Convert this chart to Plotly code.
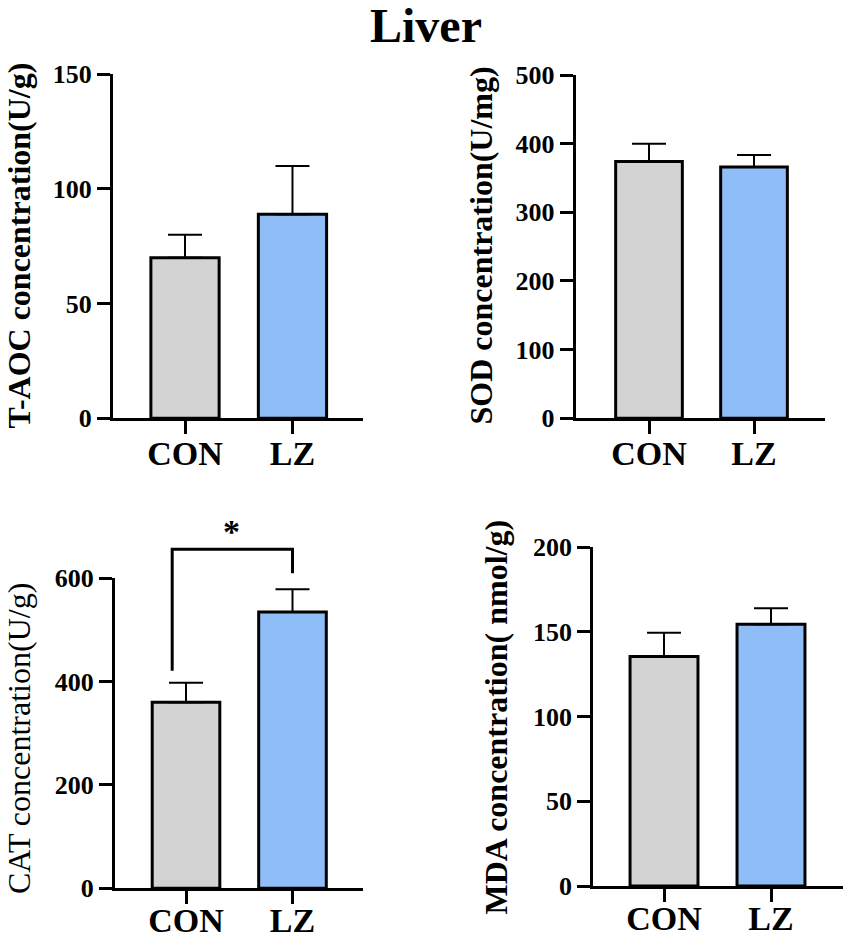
import plotly.graph_objects as go

# reference canvas is 851x940; the page body adds an 8px margin
W_REF, H_REF = 851, 940
OFF = 8
W, H = W_REF - 2 * OFF, H_REF - 2 * OFF


def px2x(px):
    return (px - OFF) / W


def px2y(py):
    return 1 - (py - OFF) / H


# ---------------- data ----------------
groups = ["CON", "LZ"]
bar_colors = ["#D3D3D3", "#8FBDF7"]

taoc_mean = [70, 89]
taoc_sd = [10, 21]

sod_mean = [374, 366]
sod_sd = [26, 17.5]

cat_mean = [360, 535]
cat_sd = [38, 44]

mda_mean = [135.5, 154.5]
mda_sd = [14, 9.5]

# significance bracket for CAT (x in category units, y in data units)
bracket_x = [-0.13, -0.13, 1, 1]
bracket_y = [421, 656, 656, 610]
star_x = 0.43
star_y = 690
star_text = "*"

titles = ["T-AOC concentration(U/g)", "SOD concentration(U/mg)",
          "CAT concentration(U/g)", "MDA concentration( nmol/g)"]
title_bold = [True, True, False, True]
y_ranges = [[0, 150], [0, 500], [0, 600], [0, 200]]
y_ticks = [[0, 50, 100, 150], [0, 100, 200, 300, 400, 500],
           [0, 200, 400, 600], [0, 50, 100, 150, 200]]

# ---------------- layout geometry (reference pixels) ----------------
panels = [
    dict(l=113, r=363.3, b=418.3, t=74.3, xr=[-0.670, 1.659], tx=18, ty=245.5, so=-10),
    dict(l=575.7, r=825, b=418.3, t=75.0, xr=[-0.698, 1.676], tx=480, ty=245.5, so=-10),
    dict(l=115, r=363.3, b=888.3, t=578.3, xr=[-0.667, 1.665], tx=19, ty=739, so=-13),
    dict(l=593.3, r=843, b=886.0, t=547.3, xr=[-0.661, 1.673], tx=495, ty=717.5, so=-13),
]
means = [taoc_mean, sod_mean, cat_mean, mda_mean]
sds = [taoc_sd, sod_sd, cat_sd, mda_sd]

FONT = "Liberation Serif"

fig = go.Figure()
layout = dict(
    width=W, height=H, margin=dict(l=0, r=0, t=0, b=0, autoexpand=False),
    paper_bgcolor="white", plot_bgcolor="rgba(0,0,0,0)", showlegend=False,
    font=dict(family=FONT, color="black"),
)
annotations = []

for i, p in enumerate(panels):
    n = i + 1
    xs = "x" if n == 1 else f"x{n}"
    ys = "y" if n == 1 else f"y{n}"
    xk = "xaxis" if n == 1 else f"xaxis{n}"
    yk = "yaxis" if n == 1 else f"yaxis{n}"
    fig.add_trace(go.Bar(
        x=[0, 1], y=means[i], width=0.635,
        marker=dict(color=bar_colors, line=dict(color="black", width=3)),
        error_y=dict(type="data", symmetric=False, array=sds[i],
                     arrayminus=[0, 0], color="black", thickness=2, width=17),
        xaxis=xs, yaxis=ys,
    ))
    layout[xk] = dict(
        domain=[px2x(p["l"]), px2x(p["r"])], anchor=ys, range=p["xr"],
        showline=True, linewidth=3, linecolor="black", automargin=False,
        ticks="outside", ticklen=13, tickwidth=3, tickcolor="black",
        tickvals=[0, 1], ticktext=groups, showgrid=False, zeroline=False,
        tickfont=dict(family=FONT, size=34, weight="bold", color="black"),
        ticklabelstandoff=p["so"], fixedrange=True,
    )
    layout[yk] = dict(
        domain=[px2y(p["b"]), px2y(p["t"])], anchor=xs, range=y_ranges[i],
        showline=True, linewidth=3, linecolor="black", automargin=False,
        ticks="outside", ticklen=13, tickwidth=3, tickcolor="black",
        tickvals=y_ticks[i], showgrid=False, zeroline=False,
        tickfont=dict(family=FONT, size=26, weight="bold", color="black"),
        fixedrange=True,
    )
    annotations.append(dict(
        text=titles[i], textangle=-90, xref="paper", yref="paper",
        x=px2x(p["tx"]), y=px2y(p["ty"]), xanchor="center", yanchor="middle",
        showarrow=False,
        font=dict(family=FONT, size=32, color="black",
                  weight="bold" if title_bold[i] else "normal"),
    ))

# overlay subplot above CAT panel for the significance bracket
p = panels[2]
scale = (p["b"] - p["t"]) / (y_ranges[2][1] - y_ranges[2][0])
top_val = 730
top_px = p["b"] - top_val * scale
layout["xaxis5"] = dict(domain=[px2x(p["l"]), px2x(p["r"])], anchor="y5",
                        range=p["xr"], visible=False, fixedrange=True,
                        automargin=False)
layout["yaxis5"] = dict(domain=[px2y(p["b"]), px2y(top_px)], anchor="x5",
                        range=[0, top_val], visible=False, fixedrange=True,
                        automargin=False)
fig.add_trace(go.Scatter(
    x=bracket_x, y=bracket_y, mode="lines",
    line=dict(color="black", width=3), xaxis="x5", yaxis="y5",
    hoverinfo="skip",
))
annotations.append(dict(
    text=star_text, xref="x5", yref="y5", x=star_x, y=star_y,
    xanchor="center", yanchor="middle", showarrow=False,
    font=dict(family=FONT, size=34, weight="bold", color="black"),
))

# main title
annotations.append(dict(
    text="Liver", xref="paper", yref="paper", x=px2x(426), y=px2y(25),
    xanchor="center", yanchor="middle", showarrow=False,
    font=dict(family=FONT, size=48, weight="bold", color="black"),
))

layout["annotations"] = annotations
fig.update_layout(**layout)
fig.write_html("out.html")
